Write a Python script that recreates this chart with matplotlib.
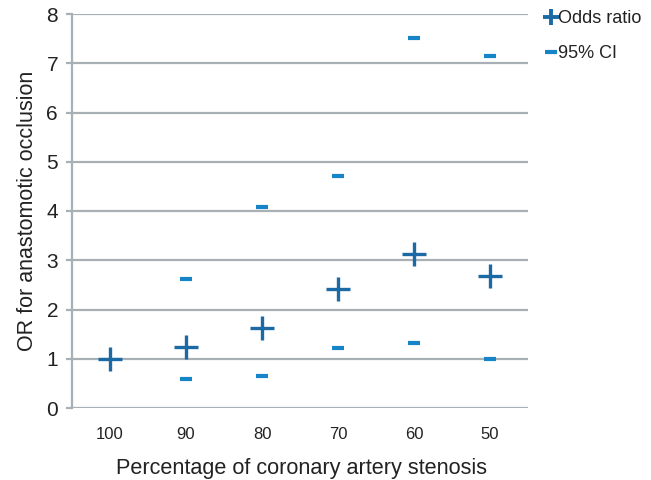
#!/usr/bin/env python3
"""Odds ratio of anastomotic occlusion vs. coronary stenosis, with 95% CI marks."""
import matplotlib
matplotlib.use("Agg")
import matplotlib.pyplot as plt
from matplotlib.lines import Line2D

plt.rcParams["font.family"] = ["Liberation Sans", "DejaVu Sans"]

stenosis = ["100", "90", "80", "70", "60", "50"]
odds_ratio = [1.0, 1.23, 1.62, 2.42, 3.12, 2.68]
# 100% is the reference group, so it has no interval
ci_cats = ["90", "80", "70", "60", "50"]
ci_lower = [0.58, 0.64, 1.21, 1.31, 1.0]
ci_upper = [2.62, 4.08, 4.72, 7.51, 7.14]
y_ticks = [0, 1, 2, 3, 4, 5, 6, 7, 8]

DARK = "#1b6aa5"
LIGHT = "#1585c8"
GRID = "#a8b0b6"
TEXT = "#222222"

fig = plt.figure(figsize=(6.51, 4.8), dpi=100)
ax = fig.add_axes([72 / 651, 1 - 408 / 480, 456 / 651, 394 / 480])

xpos = {c: i for i, c in enumerate(stenosis)}
ax.plot([xpos[c] for c in ci_cats], ci_lower, ls="none", marker="_",
        ms=9, mew=3.0, color=LIGHT, zorder=3)
ax.plot([xpos[c] for c in ci_cats], ci_upper, ls="none", marker="_",
        ms=9, mew=3.0, color=LIGHT, zorder=3)
ax.plot(range(len(stenosis)), odds_ratio, ls="none", marker="+",
        ms=17, mew=2.4, color=DARK, zorder=4)

ax.set_xlim(-0.5, len(stenosis) - 0.5)
ax.set_ylim(0, 8)
ax.set_yticks(y_ticks)
ax.set_xticks(range(len(stenosis)))
ax.set_xticklabels(stenosis)
ax.yaxis.grid(True, color=GRID, lw=1.6)
ax.set_axisbelow(True)
for s in ["top", "right", "bottom"]:
    ax.spines[s].set_visible(False)
ax.spines["left"].set_color(GRID)
ax.spines["left"].set_linewidth(1.6)
ax.tick_params(axis="y", length=4, width=1.6, color=GRID, labelsize=15,
               labelcolor=TEXT, pad=6)
ax.tick_params(axis="x", length=0, labelsize=12, labelcolor=TEXT, pad=14)

ax.set_xlabel("Percentage of coronary artery stenosis", fontsize=15.6,
              color=TEXT)
ax.xaxis.set_label_coords((302 - 72) / 456, -0.128)
ax.set_ylabel("OR for anastomotic occlusion", fontsize=15.5, color=TEXT,
              labelpad=6)

handles = [
    Line2D([], [], ls="none", marker="+", ms=11, mew=2.8, color=DARK),
    Line2D([], [], ls="none", marker="_", ms=9, mew=3.0, color=LIGHT),
]
fig.legend(handles, ["Odds ratio", "95% CI"], loc="upper left",
           bbox_to_anchor=(529 / 651, 1 + 6 / 480), frameon=False,
           fontsize=13, handlelength=0.6, handletextpad=0.1,
           labelspacing=1.0, labelcolor=TEXT)

fig.savefig("out.png", dpi=100)
